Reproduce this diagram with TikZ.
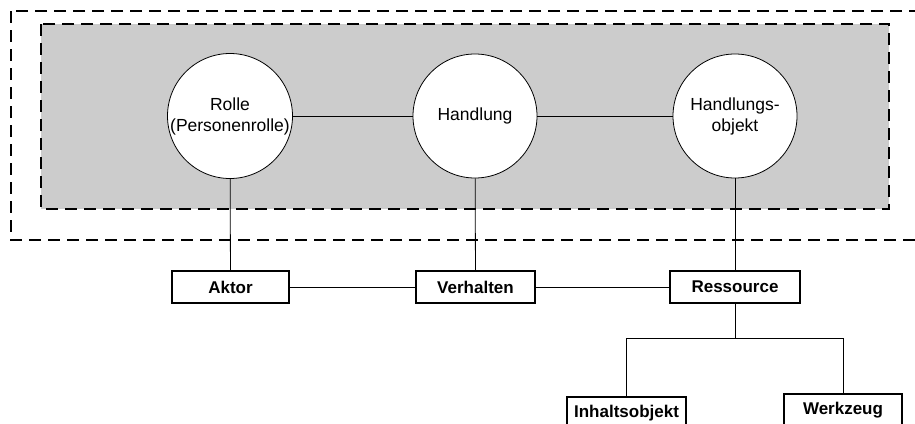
\documentclass[tikz,border=0pt]{standalone}
\usepackage{fontspec}
\setmainfont{Liberation Sans}
\begin{document}
\begin{tikzpicture}[x=1pt,y=-1pt,
  frame/.style={dash pattern=on 12pt off 7pt, line width=1.3pt},
  role/.style={circle, draw, fill=white, line width=0.8pt, minimum size=124pt,
    inner sep=0pt, align=center, font=\fontsize{17.5}{21}\selectfont},
  entity/.style={draw, fill=white, line width=1.3pt, minimum height=32pt,
    inner sep=0pt, font=\fontsize{17}{19}\selectfont\bfseries},
  link/.style={line width=0.8pt}]
  \clip (0,0) rectangle (915,423);

  % outer and inner framing
  \draw[frame] (11,11) rectangle (940,240);
  \draw[frame, fill={rgb,255:red,204;green,204;blue,204}] (41,24) rectangle (889,209);

  % roles
  \node[role] (rolle) at (230,116) {Rolle\\(Personenrolle)};
  \node[role] (handlung) at (475,116) {Handlung};
  \node[role] (hobj) at (735,116) {Handlungs-\\objekt};

  % entities
  \node[entity, minimum width=117pt] (aktor) at (230.5,287) {Aktor};
  \node[entity, minimum width=119pt] (verhalten) at (475.5,287) {Verhalten};
  \node[entity, minimum width=130pt] (ressource) at (735,287) {Ressource};
  \node[entity, minimum width=119pt] (inhalt) at (626.5,413) {Inhaltsobjekt};
  \node[entity, minimum width=118pt] (werkzeug) at (843,410) {Werkzeug};
  \coordinate (fork) at (735,338);

  % connectors
  \draw[link] (rolle) -- (handlung);
  \draw[link] (handlung) -- (hobj);
  \draw[link] (rolle) -- (aktor);
  \draw[link] (handlung) -- (verhalten);
  \draw[link] (hobj) -- (ressource);
  \draw[link] (aktor) -- (verhalten);
  \draw[link] (verhalten) -- (ressource);
  \draw[link] (ressource) -- (fork);
  \draw[link] (fork) -| (inhalt);
  \draw[link] (fork) -| (werkzeug);
\end{tikzpicture}
\end{document}
